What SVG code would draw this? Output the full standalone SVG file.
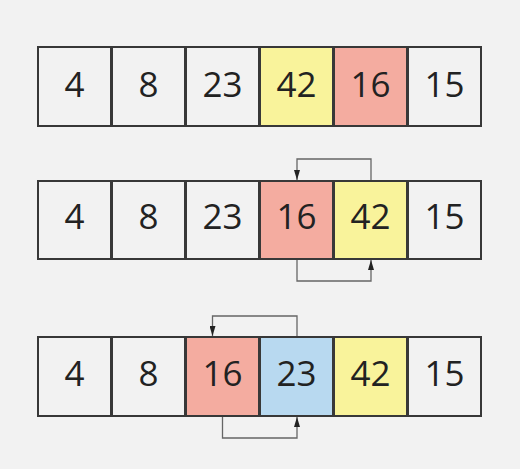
<svg xmlns="http://www.w3.org/2000/svg" width="520" height="469" viewBox="0 0 520 469">
<style>
.b{stroke:#383838;stroke-width:2;fill:#f2f2f2}
.p{fill:#f4aca0}.y{fill:#f9f39b}.c{fill:#b8d9f0}
.t{font-family:"Open Sans",sans-serif;font-size:35px;fill:#222;text-anchor:middle}
.l{fill:none;stroke:#666;stroke-width:1.3;marker-end:url(#a)}
</style>
<defs><marker id="a" viewBox="0 0 10 6" refX="10" refY="3" markerWidth="10" markerHeight="6" markerUnits="userSpaceOnUse" orient="auto"><path d="M0,0 L10,3 L0,6 Z" fill="#222"/></marker></defs>
<rect width="520" height="469" fill="#f2f2f2"/>
<g id="row1">
<g id="r1n1"><rect class="b" x="38" y="47" width="73" height="79"/><text class="t" x="74.5" y="96.5">4</text></g>
<g id="r1n2"><rect class="b" x="112" y="47" width="73" height="79"/><text class="t" x="148.5" y="96.5">8</text></g>
<g id="r1n3"><rect class="b" x="186" y="47" width="73" height="79"/><text class="t" x="222.5" y="96.5">23</text></g>
<g id="r1n4"><rect class="b y" x="260" y="47" width="73" height="79"/><text class="t" x="296.5" y="96.5">42</text></g>
<g id="r1n5"><rect class="b p" x="334" y="47" width="73" height="79"/><text class="t" x="370.5" y="96.5">16</text></g>
<g id="r1n6"><rect class="b" x="408" y="47" width="73" height="79"/><text class="t" x="444.5" y="96.5">15</text></g>
</g>
<g id="row2">
<g id="r2n1"><rect class="b" x="38" y="181" width="73" height="78"/><text class="t" x="74.5" y="228.5">4</text></g>
<g id="r2n2"><rect class="b" x="112" y="181" width="73" height="78"/><text class="t" x="148.5" y="228.5">8</text></g>
<g id="r2n3"><rect class="b" x="186" y="181" width="73" height="78"/><text class="t" x="222.5" y="228.5">23</text></g>
<g id="r2n4"><rect class="b p" x="260" y="181" width="73" height="78"/><text class="t" x="296.5" y="228.5">16</text></g>
<g id="r2n5"><rect class="b y" x="334" y="181" width="73" height="78"/><text class="t" x="370.5" y="228.5">42</text></g>
<g id="r2n6"><rect class="b" x="408" y="181" width="73" height="78"/><text class="t" x="444.5" y="228.5">15</text></g>
</g>
<g id="row3">
<g id="r3n1"><rect class="b" x="38" y="337" width="73" height="79"/><text class="t" x="74.5" y="386">4</text></g>
<g id="r3n2"><rect class="b" x="112" y="337" width="73" height="79"/><text class="t" x="148.5" y="386">8</text></g>
<g id="r3n3"><rect class="b p" x="186" y="337" width="73" height="79"/><text class="t" x="222.5" y="386">16</text></g>
<g id="r3n4"><rect class="b c" x="260" y="337" width="73" height="79"/><text class="t" x="296.5" y="386">23</text></g>
<g id="r3n5"><rect class="b y" x="334" y="337" width="73" height="79"/><text class="t" x="370.5" y="386">42</text></g>
<g id="r3n6"><rect class="b" x="408" y="337" width="73" height="79"/><text class="t" x="444.5" y="386">15</text></g>
</g>
<g id="connectors">
<path class="l" d="M371,180 V159 H297 V180"/>
<path class="l" d="M297,260 V281 H371 V260"/>
<path class="l" d="M297,336 V316 H212.5 V336"/>
<path class="l" d="M222.5,417 V438 H297 V417"/>
</g>
</svg>
